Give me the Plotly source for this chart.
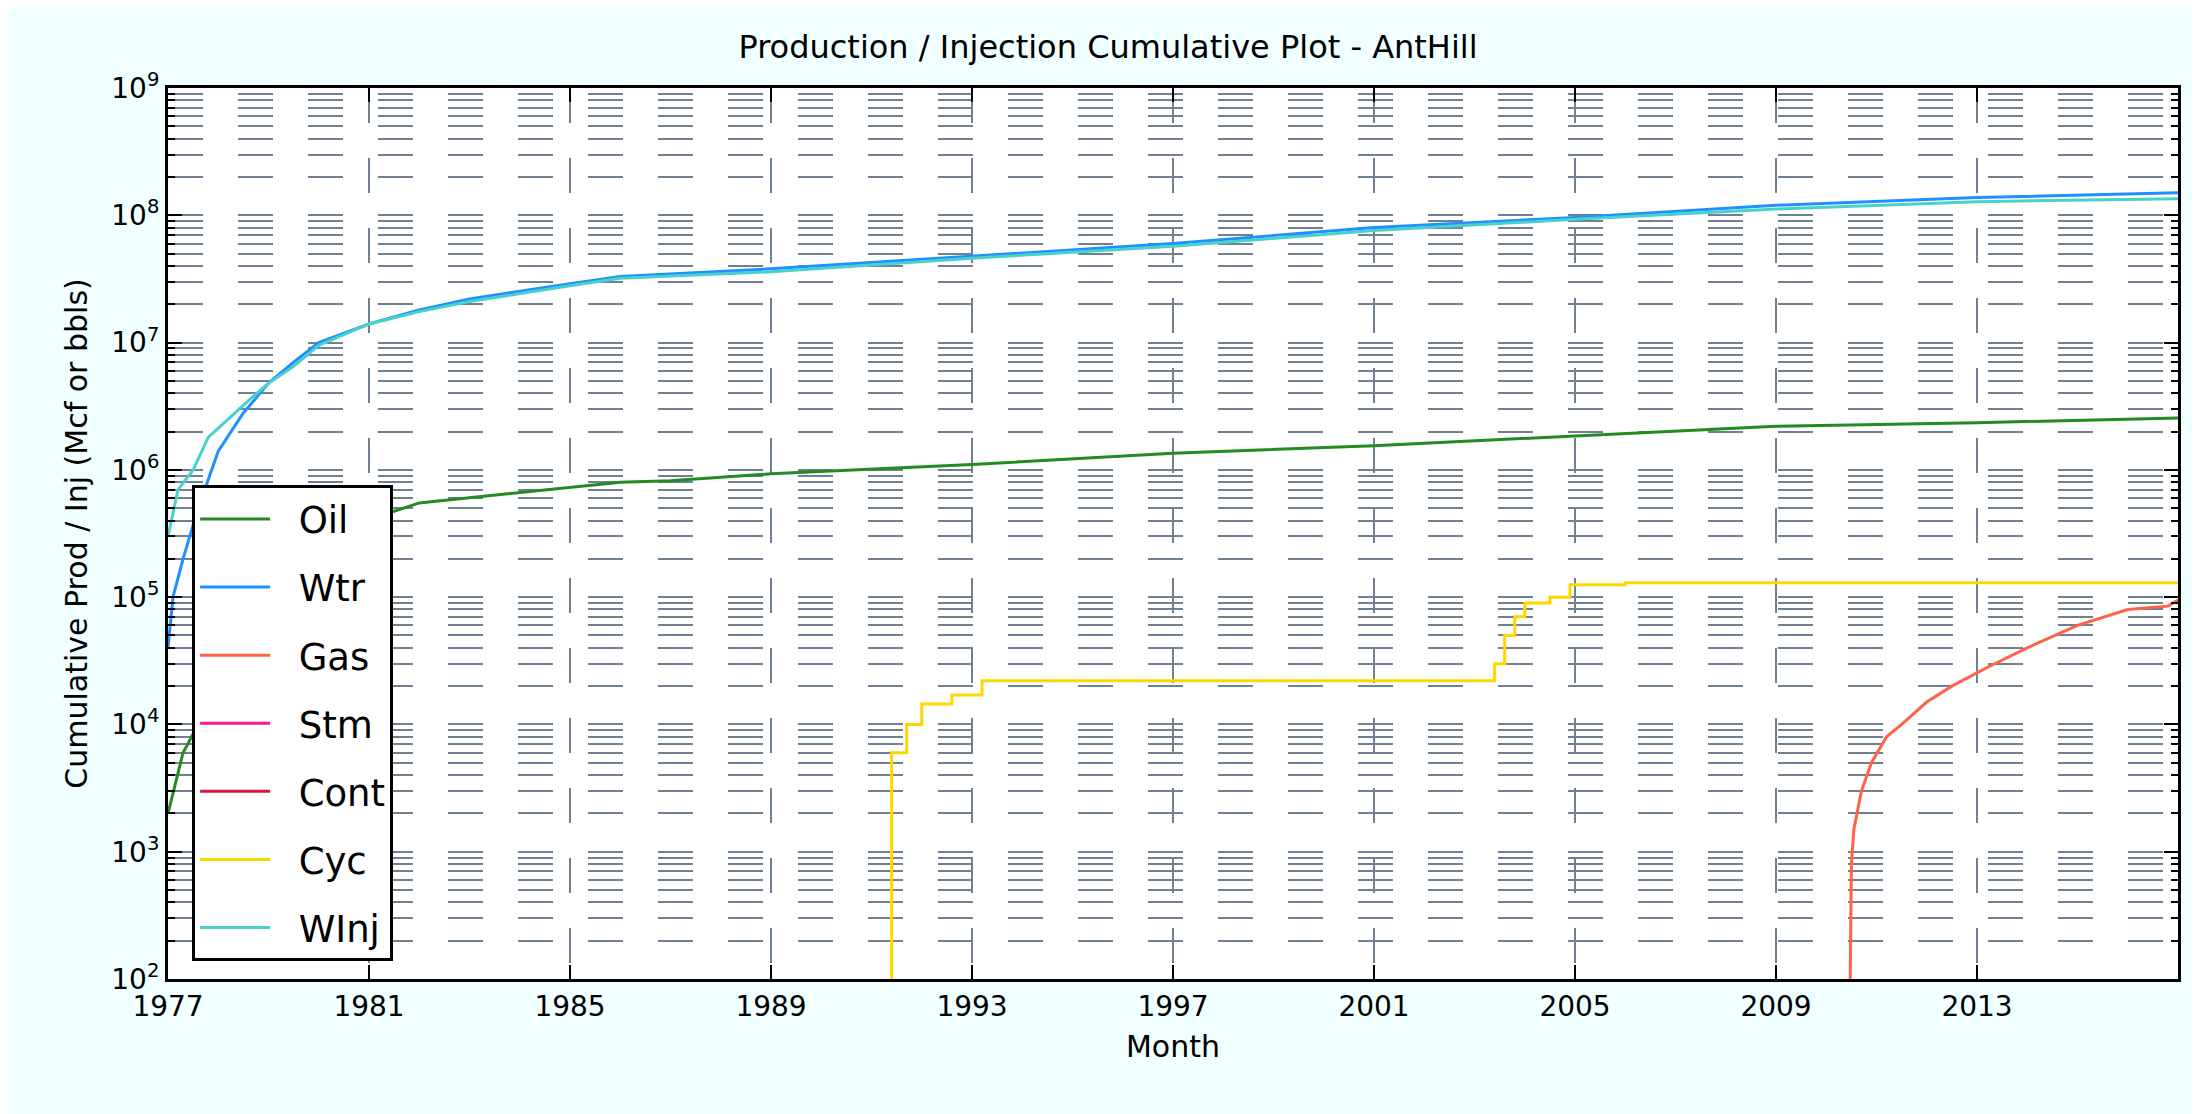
import plotly.graph_objects as go

# decimal years / cumulative volumes
wtr_x = [1977.0, 1977.1, 1977.3, 1977.6, 1978.0, 1978.5, 1979.0, 1979.5, 1980.0, 1981.0, 1982.0,
         1983.0, 1985.0, 1986.0, 1989.0, 1993.0, 1997.0, 2001.0, 2005.0, 2009.0, 2013.0, 2017.0]
wtr_y = [4e4, 1e5, 2e5, 5e5, 1.4e6, 2.8e6, 4.8e6, 7e6, 1e7, 1.4e7, 1.8e7,
         2.2e7, 2.9e7, 3.3e7, 3.8e7, 4.8e7, 6e7, 8e7, 9.6e7, 1.2e8, 1.38e8, 1.5e8]

winj_x = [1977.0, 1977.2, 1977.5, 1977.8, 1978.2, 1978.6, 1979.0, 1979.5, 1980.0, 1981.0, 1982.0,
          1983.0, 1985.0, 1986.0, 1989.0, 1993.0, 1997.0, 2001.0, 2005.0, 2009.0, 2013.0, 2017.0]
winj_y = [3e5, 7e5, 1e6, 1.8e6, 2.5e6, 3.5e6, 4.8e6, 6.5e6, 9.5e6, 1.4e7, 1.75e7,
          2.1e7, 2.8e7, 3.2e7, 3.6e7, 4.6e7, 5.7e7, 7.6e7, 9.3e7, 1.12e8, 1.28e8, 1.35e8]

oil_x = [1977.0, 1977.3, 1977.6, 1978.0, 1979.0, 1980.0, 1982.0, 1985.0, 1986.0, 1987.0,
         1989.0, 1993.0, 1997.0, 2001.0, 2005.0, 2009.0, 2013.0, 2017.0]
oil_y = [2e3, 6e3, 1e4, 3e4, 1.2e5, 3e5, 5.5e5, 7.3e5, 8e5, 8.2e5,
         9.3e5, 1.1e6, 1.35e6, 1.55e6, 1.85e6, 2.2e6, 2.35e6, 2.55e6]

cyc_x = [1991.4, 1991.4, 1991.7, 1992.0, 1992.6, 1993.2, 2003.2, 2003.4, 2003.6, 2003.8,
         2004.0, 2004.5, 2004.9, 2006.0, 2017.0]
cyc_y = [50, 6e3, 1e4, 1.45e4, 1.7e4, 2.2e4, 2.2e4, 3e4, 5e4, 7e4,
         9e4, 1.0e5, 1.25e5, 1.3e5, 1.3e5]

gas_x = [2010.47, 2010.5, 2010.55, 2010.7, 2010.9, 2011.2, 2011.5, 2012.0, 2012.5,
         2013.2, 2014.0, 2015.0, 2016.0, 2016.8, 2017.0]
gas_y = [50, 8e2, 1.5e3, 3e3, 5e3, 8e3, 1e4, 1.5e4, 2e4,
         2.8e4, 4e4, 6e4, 8e4, 8.5e4, 9.5e4]

# steam / continuous injection: nothing above the axis floor
stm_x, stm_y = [1977.0, 2017.0], [0, 0]
cont_x, cont_y = [1977.0, 2017.0], [0, 0]

year_ticks = list(range(1977, 2017, 4))
decades = list(range(2, 10))

series = [
    ("Oil", oil_x, oil_y, "#228B22"),
    ("Wtr", wtr_x, wtr_y, "#1E90FF"),
    ("Gas", gas_x, gas_y, "#FF6347"),
    ("Stm", stm_x, stm_y, "#FF1493"),
    ("Cont", cont_x, cont_y, "#DC143C"),
    ("Cyc", cyc_x, cyc_y, "#FFD700"),
    ("WInj", winj_x, winj_y, "#48D1CC"),
]

fig = go.Figure()
for name, xs, ys, col in series:
    shape = "hv" if name == "Cyc" else "linear"
    fig.add_trace(go.Scatter(x=xs, y=ys, name="  " + name, mode="lines", legendgroup=name,
                             line=dict(color=col, width=3, shape=shape)))

minor_vals = [m * 10 ** d for d in decades for m in range(2, 10)]
grid = dict(gridcolor="#708090", gridwidth=1.5, griddash="35px,35px")

fig.update_layout(
    width=2200, height=1114,
    paper_bgcolor="#F0FFFF", plot_bgcolor="white",
    margin=dict(l=160, r=30, t=80, b=143),
    font=dict(family="DejaVu Sans", color="black", size=28),
    title=dict(text="Production / Injection Cumulative Plot - AntHill",
               x=0.5, xanchor="center", y=0.975, yanchor="top", font=dict(size=32)),
    legend=dict(x=0.012, y=0.554, xanchor="left", yanchor="top",
                bgcolor="white", bordercolor="black", borderwidth=3,
                font=dict(size=37), itemwidth=70, tracegroupgap=17),
    xaxis=dict(range=[1977, 2017], tickvals=year_ticks, ticktext=[str(y) for y in year_ticks],
               showgrid=True, **grid, zeroline=False,
               showline=True, linecolor="black", linewidth=3, mirror="ticks",
               ticks="inside", ticklen=14, tickwidth=2, tickcolor="black",
               title=dict(text="Month", font=dict(size=30))),
    yaxis=dict(type="log", range=[2, 9],
               tickvals=[10 ** d for d in range(2, 10)],
               ticktext=["10<sup>%d</sup>" % d for d in range(2, 10)],
               showgrid=True, **grid, zeroline=False,
               showline=True, linecolor="black", linewidth=3, mirror="ticks",
               ticks="inside", ticklen=14, tickwidth=2, tickcolor="black",
               minor=dict(tickvals=minor_vals, ticks="inside", ticklen=7, tickwidth=2,
                          tickcolor="black", showgrid=True, **grid),
               title=dict(text="Cumulative Prod / Inj (Mcf or bbls)", font=dict(size=30))),
)

fig.write_html("out.html")
